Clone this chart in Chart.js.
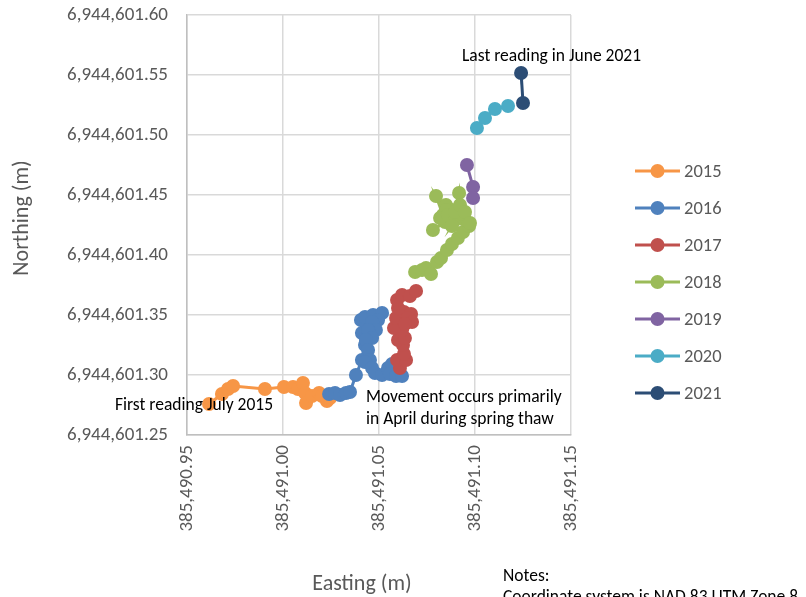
<!DOCTYPE html>
<html><head><meta charset="utf-8">
<script src="https://cdn.jsdelivr.net/npm/chart.js@4/dist/chart.umd.min.js"></script>
<style>html,body{margin:0;padding:0;background:#fff;}#wrap{width:806px;height:597px;}</style>
</head><body><div id="wrap"><canvas id="c" width="806" height="597"></canvas></div>
<script>
const years = ['2015','2016','2017','2018','2019','2020','2021'];
const colors = ['#F79646','#4F81BD','#C0504D','#9BBB59','#8064A2','#4BACC6','#2C4D75'];
const xTicksMin = 385490.95, xTicksMax = 385491.15, yTicksMin = 6944601.25, yTicksMax = 6944601.60, tickStep = 0.05;

const e2015 = [385490.9615,385490.9682,385490.9714,385490.9740,385490.9906,385491.0005,385491.0052,385491.0078,385491.0104,385491.0115,385491.0120,385491.0151,385491.0188,385491.0203,385491.0229,385491.0245];
const n2015 = [6944601.2758,6944601.2842,6944601.2883,6944601.2908,6944601.2883,6944601.2900,6944601.2900,6944601.2883,6944601.2933,6944601.2850,6944601.2767,6944601.2825,6944601.2850,6944601.2825,6944601.2783,6944601.2808];
const e2016 = [385491.0240,385491.0271,385491.0297,385491.0328,385491.0349,385491.0380,385491.0411,385491.0427,385491.0411,385491.0406,385491.0427,385491.0469,385491.0516,385491.0495,385491.0464,385491.0484,385491.0443,385491.0464,385491.0432,385491.0443,385491.0453,385491.0427,385491.0464,385491.0479,385491.0516,385491.0547,385491.0568,385491.0557,385491.0589,385491.0620];
const n2016 = [6944601.2842,6944601.2850,6944601.2833,6944601.2850,6944601.2858,6944601.3000,6944601.3125,6944601.3250,6944601.3350,6944601.3458,6944601.3483,6944601.3500,6944601.3517,6944601.3458,6944601.3442,6944601.3375,6944601.3375,6944601.3308,6944601.3292,6944601.3208,6944601.3125,6944601.3108,6944601.3058,6944601.3017,6944601.3000,6944601.3058,6944601.3092,6944601.3008,6944601.2992,6944601.2992];
const e2017 = [385491.0609,385491.0594,385491.0641,385491.0630,385491.0625,385491.0599,385491.0635,385491.0620,385491.0578,385491.0589,385491.0630,385491.0667,385491.0651,385491.0672,385491.0635,385491.0599,385491.0594,385491.0620,385491.0661,385491.0693];
const n2017 = [6944601.3058,6944601.3125,6944601.3125,6944601.3175,6944601.3250,6944601.3292,6944601.3308,6944601.3375,6944601.3392,6944601.3475,6944601.3525,6944601.3508,6944601.3475,6944601.3442,6944601.3425,6944601.3558,6944601.3625,6944601.3667,6944601.3658,6944601.3700];
const e2018 = [385491.0688,385491.0724,385491.0745,385491.0771,385491.0802,385491.0823,385491.0854,385491.0880,385491.0911,385491.0938,385491.0969,385491.0948,385491.0911,385491.0880,385491.0849,385491.0833,385491.0797,385491.0849,385491.0870,385491.0781,385491.0844,385491.0818,385491.0859,385491.0896,385491.0880,385491.0932,385491.0896,385491.0917,385491.0922,385491.0948,385491.0974];
const n2018 = [6944601.3858,6944601.3875,6944601.3892,6944601.3842,6944601.3942,6944601.3975,6944601.4042,6944601.4092,6944601.4142,6944601.4192,6944601.4242,6944601.4292,6944601.4333,6944601.4375,6944601.4417,6944601.4333,6944601.4492,6944601.4375,6944601.4308,6944601.4208,6944601.4275,6944601.4308,6944601.4333,6944601.4292,6944601.4242,6944601.4342,6944601.4358,6944601.4517,6944601.4417,6944601.4358,6944601.4267];
const e2019 = [385491.0958,385491.0990,385491.0990];
const n2019 = [6944601.4750,6944601.4567,6944601.4475];
const e2020 = [385491.1010,385491.1052,385491.1104,385491.1172];
const n2020 = [6944601.5058,6944601.5142,6944601.5217,6944601.5242];
const e2021 = [385491.1250,385491.1240];
const n2021 = [6944601.5267,6944601.5517];

const eastings = [e2015,e2016,e2017,e2018,e2019,e2020,e2021];
const northings = [n2015,n2016,n2017,n2018,n2019,n2020,n2021];

const FONT = 'Carlito, Calibri, Lato, "Liberation Sans", sans-serif';
const GREY = '#595959';

const datasets = years.map((y,i)=>({
  label: y,
  data: eastings[i].map((e,k)=>({x:e, y:northings[i][k]})),
  showLine: true,
  borderColor: colors[i],
  backgroundColor: colors[i],
  borderWidth: 3,
  pointRadius: 7,
  pointBorderWidth: 0,
  pointBackgroundColor: colors[i],
  order: years.length - i
}));

const fmt = v => Number(v).toLocaleString('en-US',{minimumFractionDigits:2, maximumFractionDigits:2});

const extras = {
  id: 'extras',
  afterDraw(chart){
    const ctx = chart.ctx;
    ctx.save();
    // legend
    ctx.font = '18.5px ' + FONT;
    ctx.textBaseline = 'middle';
    ctx.textAlign = 'left';
    years.forEach((y,i)=>{
      const yy = 171 + i*37;
      ctx.strokeStyle = colors[i]; ctx.lineWidth = 3;
      ctx.beginPath(); ctx.moveTo(635,yy); ctx.lineTo(680,yy); ctx.stroke();
      ctx.fillStyle = colors[i];
      ctx.beginPath(); ctx.arc(657.5,yy,7,0,Math.PI*2); ctx.fill();
      ctx.fillStyle = GREY;
      ctx.fillText(y, 684, yy+1);
    });
    // axis titles
    ctx.font = '22px ' + FONT;
    ctx.fillStyle = GREY;
    ctx.textAlign = 'center';
    ctx.fillText('Easting (m)', 362, 584);
    ctx.save();
    ctx.translate(22, 218);
    ctx.rotate(-Math.PI/2);
    ctx.fillText('Northing (m)', 0, 0);
    ctx.restore();
    // annotations
    ctx.fillStyle = '#000';
    ctx.font = '17.5px ' + FONT;
    ctx.textAlign = 'left';
    ctx.fillText('Last reading in June 2021', 462, 57);
    ctx.fillText('First reading July 2015', 115, 406);
    ctx.fillText('Movement occurs primarily', 366, 398);
    ctx.fillText('in April during spring thaw', 366, 420);
    ctx.fillText('Notes:', 503, 577);
    ctx.fillText('Coordinate system is NAD 83 UTM Zone 8', 503, 598);
    ctx.restore();
  }
};

new Chart(document.getElementById('c'), {
  type: 'scatter',
  data: { datasets },
  options: {
    responsive: false,
    animation: false,
    layout: { padding: { top: 15, right: 235, left: 0, bottom: 0 } },
    plugins: { legend: { display: false }, tooltip: { enabled: false } },
    scales: {
      x: {
        type: 'linear', min: xTicksMin, max: xTicksMax,
        afterFit(s){ s.height = 162; s.paddingLeft = 0; s.paddingRight = 0; },
        ticks: { stepSize: tickStep, autoSkip: false, minRotation: 90, maxRotation: 90, padding: 10,
                 color: GREY, font: { family: FONT, size: 19 }, callback: v => fmt(v) },
        grid: { color: '#D9D9D9', lineWidth: 1.5, drawTicks: false },
        border: { color: '#BFBFBF', width: 1.5 }
      },
      y: {
        type: 'linear', min: yTicksMin, max: yTicksMax,
        afterFit(s){ s.width = 187; s.paddingTop = 0; s.paddingBottom = 0; },
        ticks: { stepSize: tickStep, autoSkip: false, padding: 19,
                 color: GREY, font: { family: FONT, size: 19 }, callback: v => fmt(v) },
        grid: { color: '#D9D9D9', lineWidth: 1.5, drawTicks: false },
        border: { color: '#BFBFBF', width: 1.5 }
      }
    }
  },
  plugins: [extras]
});
</script></body></html>
